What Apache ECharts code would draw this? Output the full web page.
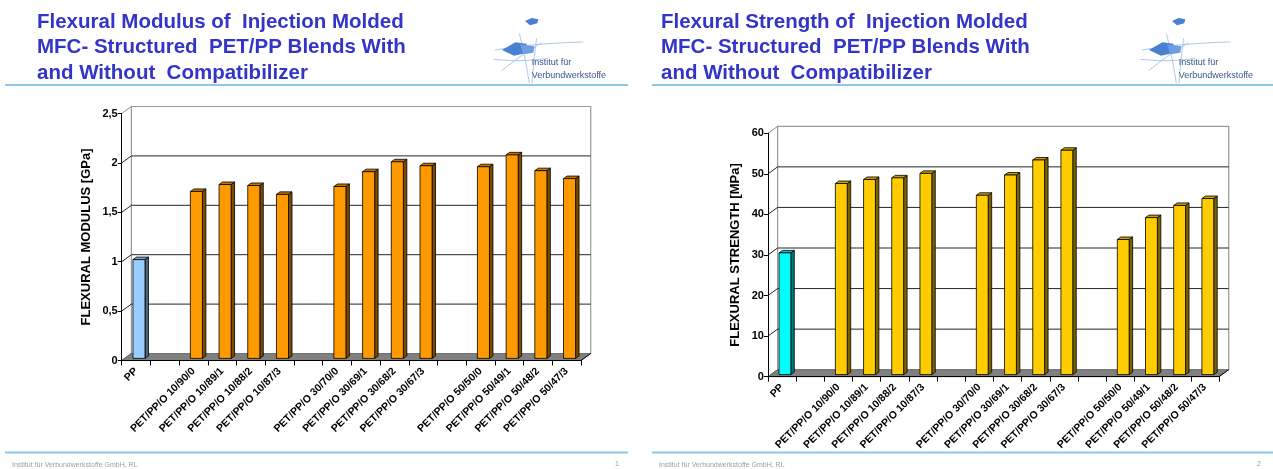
<!DOCTYPE html>
<html>
<head>
<meta charset="utf-8">
<script src="https://cdn.jsdelivr.net/npm/echarts@6.0.0/dist/echarts.min.js"></script>
<style>
  html, body { margin: 0; padding: 0; background: #ffffff; }
  #c { width: 1273px; height: 469px; }
</style>
</head>
<body>
<div id="c"></div>
<script>
// ---- data ----
const categories = ['PP', '', 'PET/PP/O 10/90/0', 'PET/PP/O 10/89/1', 'PET/PP/O 10/88/2', 'PET/PP/O 10/87/3', '',
  'PET/PP/O 30/70/0', 'PET/PP/O 30/69/1', 'PET/PP/O 30/68/2', 'PET/PP/O 30/67/3', '',
  'PET/PP/O 50/50/0', 'PET/PP/O 50/49/1', 'PET/PP/O 50/48/2', 'PET/PP/O 50/47/3'];
const modulusValues = [1.00, null, 1.69, 1.76, 1.75, 1.66, null, 1.74, 1.89, 1.99, 1.95, null, 1.94, 2.06, 1.90, 1.82];
const strengthValues = [30.0, null, 47.1, 48.1, 48.5, 49.6, null, 44.2, 49.2, 52.9, 55.3, null, 33.3, 38.7, 41.7, 43.4];
const modulusTicks = [0, 0.5, 1, 1.5, 2, 2.5];
const strengthTicks = [0, 10, 20, 30, 40, 50, 60];
const modulusTitle = ['Flexural Modulus of  Injection Molded', 'MFC- Structured  PET/PP Blends With', 'and Without  Compatibilizer'];
const strengthTitle = ['Flexural Strength of  Injection Molded', 'MFC- Structured  PET/PP Blends With', 'and Without  Compatibilizer'];
const modulusAxisName = 'FLEXURAL MODULUS [GPa]';
const strengthAxisName = 'FLEXURAL STRENGTH [MPa]';
const logoLines = ['Institut für', 'Verbundwerkstoffe'];
const footerText = 'Institut für Verbundwerkstoffe GmbH, RL';
const pageNumbers = ['1', '2'];

// ---- styling ----
const FONT = '"Liberation Sans", Arial, Helvetica, sans-serif';
const DEPTH = { dx: 9.7, dy: -7 };        // pixel offset of the back wall
const TITLE_BLUE = '#3434c8';
const RULE_BLUE = '#8cc8ea';

const palettes = {
  modulus: { face: '#ff9900', top: '#c47600', side: '#7a4a00' },
  modulusPP: { face: '#99ccff', top: '#7aa3cc', side: '#4d6680' },
  strength: { face: '#ffcc00', top: '#c9a000', side: '#7a6200' },
  strengthPP: { face: '#00ffff', top: '#00c4c4', side: '#007a7a' }
};

function tickInfo(ticks) {
  return { min: ticks[0], max: ticks[ticks.length - 1], interval: ticks[1] - ticks[0] };
}

// 3D column: front face, top and right side, drawn from the axis scales
function barRenderer(palette, ppPalette) {
  return function (params, api) {
    const idx = api.value(0);
    const v = api.value(1);
    const top = api.coord([idx, v]);
    const base = api.coord([idx, 0]);
    const band = api.size([1, 0])[0];
    const w = band * 0.42;
    const fx = DEPTH.dx * 0.3, fy = DEPTH.dy * 0.3;
    const sx = DEPTH.dx * 0.36, sy = DEPTH.dy * 0.36;
    const x0 = top[0] - w / 2 + fx, x1 = x0 + w;
    const yt = top[1] + fy, yb = base[1] + fy;
    const c = categories[idx] === 'PP' ? ppPalette : palette;
    const edge = { stroke: '#000', lineWidth: 0.8, lineJoin: 'round' };
    return {
      type: 'group',
      children: [
        { type: 'polygon', shape: { points: [[x1, yt], [x1 + sx, yt + sy], [x1 + sx, yb + sy], [x1, yb]] },
          style: Object.assign({ fill: c.side }, edge) },
        { type: 'polygon', shape: { points: [[x0, yt], [x0 + sx, yt + sy], [x1 + sx, yt + sy], [x1, yt]] },
          style: Object.assign({ fill: c.top }, edge) },
        { type: 'rect', shape: { x: x0, y: yt, width: w, height: yb - yt },
          style: Object.assign({ fill: c.face }, edge) }
      ]
    };
  };
}

// back wall with gridlines, side-wall diagonals and the grey floor
function wallRenderer(ticks) {
  return function (params, api) {
    const cs = params.coordSys;
    const dx = DEPTH.dx, dy = DEPTH.dy;
    const x0 = cs.x, x1 = cs.x + cs.width;
    const yTop = cs.y, yBot = cs.y + cs.height;
    const children = [];
    children.push({ type: 'rect', shape: { x: x0 + dx, y: yTop + dy, width: cs.width, height: cs.height },
      style: { fill: '#ffffff', stroke: '#9a9a9a', lineWidth: 1.2 } });
    ticks.forEach(function (t, i) {
      const y = api.coord([0, t])[1];
      const last = i === ticks.length - 1;
      if (i > 0 && !last) {
        children.push({ type: 'line', shape: { x1: x0 + dx, y1: y + dy, x2: x1 + dx, y2: y + dy },
          style: { stroke: '#262626', lineWidth: 1 } });
      }
      children.push({ type: 'line', shape: { x1: x0, y1: y, x2: x0 + dx, y2: y + dy },
        style: { stroke: last ? '#8a8a8a' : '#262626', lineWidth: 1 } });
    });
    children.push({ type: 'polygon',
      shape: { points: [[x0, yBot], [x1, yBot], [x1 + dx, yBot + dy], [x0 + dx, yBot + dy]] },
      style: { fill: '#808080', stroke: '#6a6a6a', lineWidth: 0.8 } });
    children.push({ type: 'line', shape: { x1: x1, y1: yBot, x2: x1 + dx, y2: yBot + dy },
      style: { stroke: '#000', lineWidth: 1 } });
    return { type: 'group', children: children };
  };
}

function barData(values) {
  const out = [];
  values.forEach(function (v, i) { if (v !== null) out.push([i, v]); });
  return out;
}

// ---- slide decoration ----
function logo(ox, oy) {
  const s = 1 / 3;
  const P = function (pts) { return pts.map(function (p) { return [ox + p[0] * s, oy + p[1] * s]; }); };
  const thin = { stroke: '#aac6ec', lineWidth: 1, fill: null };
  const els = [
    { type: 'polyline', shape: { points: P([[75, 150], [160, 138], [250, 130], [340, 126]]), smooth: 0.4 }, style: thin },
    { type: 'polyline', shape: { points: P([[95, 212], [150, 170], [215, 128]]), smooth: 0.4 }, style: thin },
    { type: 'polyline', shape: { points: P([[70, 178], [150, 182], [230, 176]]), smooth: 0.4 }, style: thin },
    { type: 'polyline', shape: { points: P([[148, 100], [165, 175], [178, 250]]), smooth: 0.4 }, style: thin },
    { type: 'polyline', shape: { points: P([[200, 115], [192, 180], [186, 250]]), smooth: 0.4 }, style: thin },
    { type: 'polygon', shape: { points: P([[165, 63], [185, 54], [205, 58], [202, 70], [180, 76]]) },
      style: { fill: '#4a80d2' } },
    { type: 'polygon', shape: { points: P([[96, 150], [136, 127], [170, 131], [165, 160], [132, 167]]) },
      style: { fill: '#4a80d2' } },
    { type: 'polygon', shape: { points: P([[150, 133], [193, 139], [190, 158], [160, 163]]) },
      style: { fill: '#6d9ee2' } },
    { type: 'text', x: ox + 185 * s, y: oy + 188 * s,
      style: { text: logoLines[0], font: '9px ' + FONT, fill: '#3a5688', verticalAlign: 'middle' } },
    { type: 'text', x: ox + 185 * s, y: oy + 228 * s,
      style: { text: logoLines[1], font: '9px ' + FONT, fill: '#3a5688', verticalAlign: 'middle' } }
  ];
  return els;
}

function slideDecor(titleLines, titleX, ruleX0, ruleX1, logoX, footX, pageX, page) {
  const els = [];
  titleLines.forEach(function (t, i) {
    els.push({ type: 'text', x: titleX, y: 22 + i * 25.5,
      style: { text: t, font: 'bold 20.5px ' + FONT, fill: TITLE_BLUE, verticalAlign: 'middle' } });
  });
  els.push({ type: 'line', shape: { x1: ruleX0, y1: 85, x2: ruleX1, y2: 85 }, style: { stroke: RULE_BLUE, lineWidth: 2 } });
  els.push({ type: 'line', shape: { x1: ruleX0, y1: 452.5, x2: ruleX1, y2: 452.5 }, style: { stroke: RULE_BLUE, lineWidth: 2 } });
  els.push({ type: 'text', x: footX, y: 465,
    style: { text: footerText, font: '7px ' + FONT, fill: '#a0a0a0', verticalAlign: 'middle' } });
  els.push({ type: 'text', x: pageX, y: 464,
    style: { text: page, font: '7px ' + FONT, fill: '#a0a0a0', verticalAlign: 'middle' } });
  return els.concat(logo(logoX, 0));
}

// ---- axes ----
function yAxisFor(ticks, name, gridIndex, nameGap) {
  const t = tickInfo(ticks);
  return {
    type: 'value', gridIndex: gridIndex, min: t.min, max: t.max, interval: t.interval, z: 10,
    name: name, nameLocation: 'middle', nameRotate: 90, nameGap: nameGap,
    nameTextStyle: { fontFamily: FONT, fontWeight: 'bold', fontSize: 13, color: '#000' },
    axisLine: { show: true, lineStyle: { color: '#000', width: 1 } },
    axisTick: { show: true, length: 4, lineStyle: { color: '#000', width: 1 } },
    axisLabel: { margin: 4, fontFamily: FONT, fontWeight: 'bold', fontSize: 11, color: '#000',
      formatter: function (v) { return String(v).replace('.', ','); } },
    splitLine: { show: false }
  };
}

function xAxisFor(gridIndex) {
  return {
    type: 'category', gridIndex: gridIndex, data: categories, z: 10, boundaryGap: true,
    axisLine: { show: true, lineStyle: { color: '#000', width: 1 } },
    axisTick: { show: true, length: 5, interval: 0, lineStyle: { color: '#000', width: 1 } },
    axisLabel: { interval: 0, rotate: 45, margin: 9, fontFamily: FONT, fontWeight: 'bold', fontSize: 10.5, color: '#000' },
    splitLine: { show: false }
  };
}

const chart = echarts.init(document.getElementById('c'), null, { renderer: 'canvas' });

chart.setOption({
  backgroundColor: '#ffffff',
  animation: false,
  grid: [
    { left: 121.7, top: 113.5, width: 459.3, height: 247, containLabel: false, outerBoundsMode: 'none' },
    { left: 767.9, top: 133.3, width: 451.1, height: 243.4, containLabel: false, outerBoundsMode: 'none' }
  ],
  xAxis: [xAxisFor(0), xAxisFor(1)],
  yAxis: [yAxisFor(modulusTicks, modulusAxisName, 0, 29), yAxisFor(strengthTicks, strengthAxisName, 1, 26)],
  graphic: slideDecor(modulusTitle, 37, 5, 628, 470, 12, 615, pageNumbers[0])
    .concat(slideDecor(strengthTitle, 661, 652, 1273, 1117, 659, 1257, pageNumbers[1])),
  series: [
    { type: 'custom', name: 'wall-modulus', xAxisIndex: 0, yAxisIndex: 0, z: 1, silent: true,
      data: [[0, 0]], renderItem: wallRenderer(modulusTicks) },
    { type: 'custom', name: 'Flexural modulus', xAxisIndex: 0, yAxisIndex: 0, z: 3,
      data: barData(modulusValues), renderItem: barRenderer(palettes.modulus, palettes.modulusPP) },
    { type: 'custom', name: 'wall-strength', xAxisIndex: 1, yAxisIndex: 1, z: 1, silent: true,
      data: [[0, 0]], renderItem: wallRenderer(strengthTicks) },
    { type: 'custom', name: 'Flexural strength', xAxisIndex: 1, yAxisIndex: 1, z: 3,
      data: barData(strengthValues), renderItem: barRenderer(palettes.strength, palettes.strengthPP) }
  ]
});
</script>
</body>
</html>
